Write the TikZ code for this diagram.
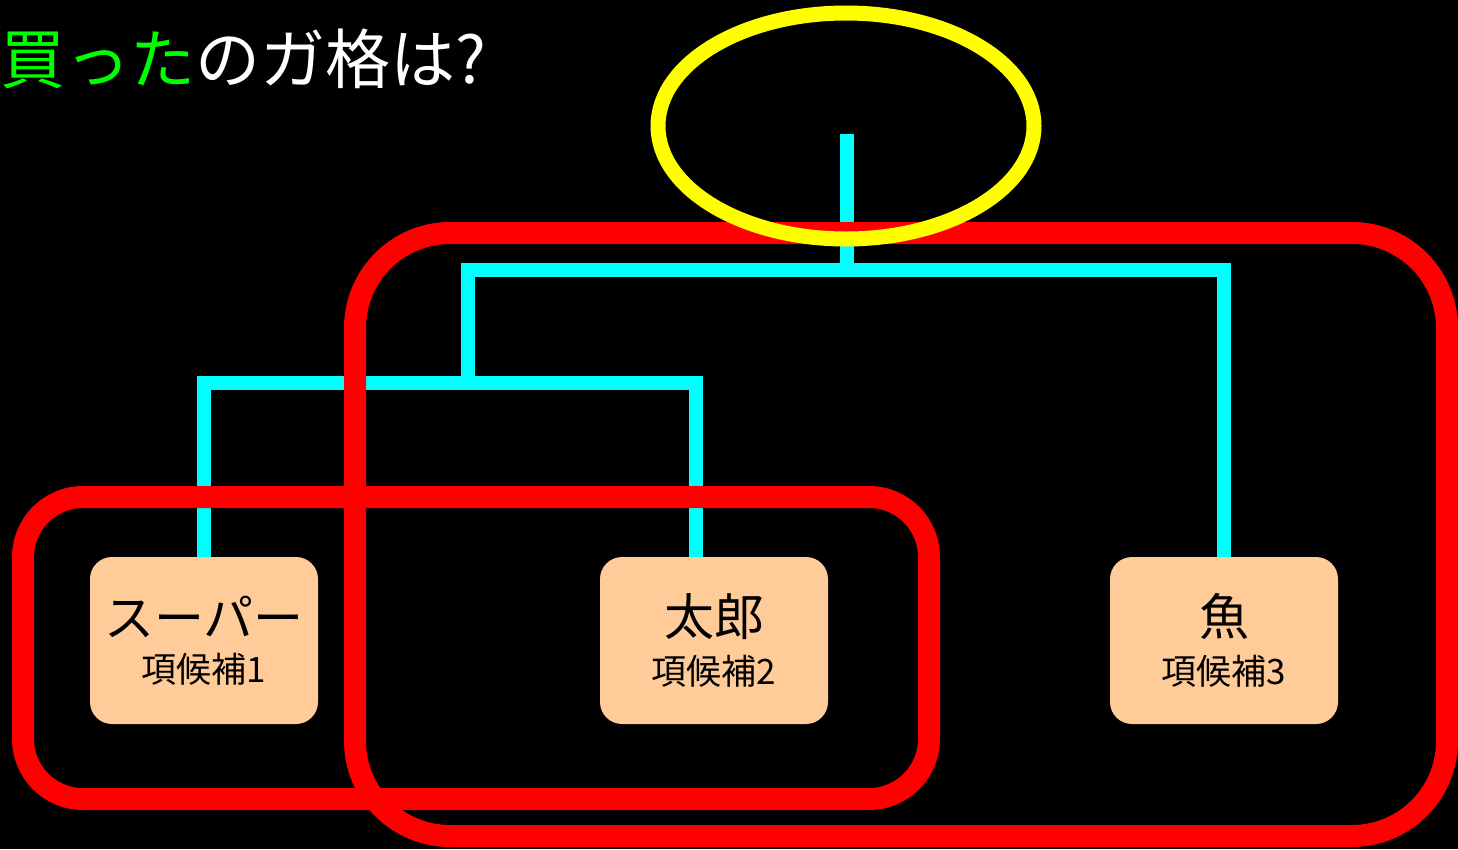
\documentclass[tikz,border=0pt]{standalone}
\usepackage{fontspec}
\setmainfont{Noto Sans CJK JP}
\usetikzlibrary{positioning}
\definecolor{tgreen}{HTML}{00FF00}
\definecolor{tcyan}{HTML}{00FFFF}
\definecolor{tred}{HTML}{FF0000}
\definecolor{tyellow}{HTML}{FFFF00}
\definecolor{tpeach}{HTML}{FFCC99}
\tikzset{
  cand/.style={fill=tpeach, rounded corners=22pt, minimum width=228pt, minimum height=167pt, inner sep=0pt, align=center, text=black},
  tree/.style={draw=tcyan, line width=14pt},
  group/.style={draw=tred, line width=22pt},
  focus/.style={draw=tyellow, line width=15pt},
}
\newcommand{\candmain}[1]{{\fontsize{50}{54}\selectfont #1}}
\newcommand{\candsub}[1]{{\fontsize{35}{40}\selectfont #1}}
\begin{document}
\begin{tikzpicture}[x=1pt,y=-1pt]
\fill[black] (0,0) rectangle (1458,849);
\useasboundingbox (0,0) rectangle (1458,849);
% title
\node[anchor=west, inner sep=0pt, font=\fontsize{65}{72}\selectfont] (title) at (0,59) {\textcolor{tgreen}{買った}\textcolor{white}{のガ格は?}};
% candidate boxes
\node[cand] (n1) at (204,640.5) {\candmain{スーパー}\\[14pt]\candsub{項候補1}};
\node[cand] (n2) at (714,640.5) {\candmain{太郎}\\[14pt]\candsub{項候補2}};
\node[cand] (n3) at (1224,640.5) {\candmain{魚}\\[14pt]\candsub{項候補3}};
% tree
\coordinate (root) at (847,134);
\coordinate (j1) at (847,270);
\coordinate (j2) at (468,383);
\draw[tree] (root) -- (j1);
\draw[tree] (j2) |- (j1) -| (n3.north);
\draw[tree] (n1.north) |- (j2) -| ([xshift=-18pt]n2.north);
% groups
\draw[group, rounded corners=60pt] (23,497) rectangle (929,799);
\draw[group, rounded corners=95pt] (355,233) rectangle (1447,836);
% focus ellipse
\draw[focus] (846,126) ellipse [x radius=188, y radius=113];
\end{tikzpicture}
\end{document}
